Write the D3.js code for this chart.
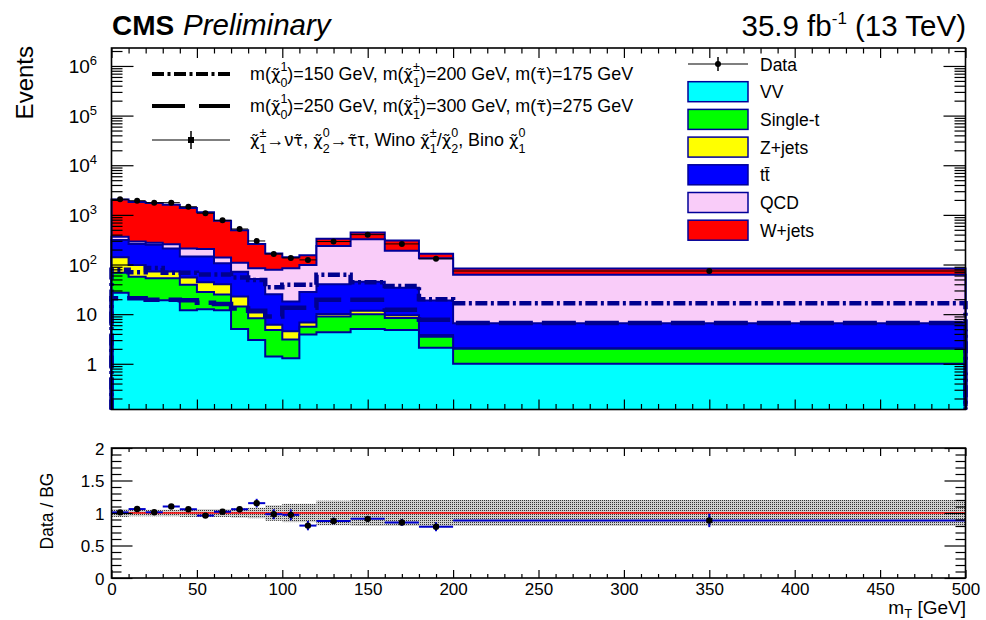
<!DOCTYPE html>
<html>
<head>
<meta charset="utf-8">
<script src="https://cdn.jsdelivr.net/npm/d3@7"></script>
<style>
  body { margin: 0; background: #fff; }
  svg { display: block; font-family: "Liberation Sans", Arial, Helvetica, sans-serif; }
</style>
</head>
<body>
<svg id="chart" width="986" height="620"></svg>
<script>
// ---- binning (m_T, GeV) ----
const binEdges = [0, 10, 20, 30, 40, 50, 60, 70, 80, 90, 100, 110, 120, 140, 160, 180, 200, 500];

// ---- background yields per bin (events) ----
const vvYield     = [27, 22, 19, 19, 12, 12.5, 12, 5.0, 3.0, 1.4, 1.3, 3.9, 4.3, 5.0, 4.8, 2.1, 1.0];
const singleTop   = [41, 35, 34, 34, 27, 15.5, 13, 9.2, 5.3, 3.4, 1.8, 1.7, 4.7, 5.0, 3.6, 1.4, 1.0];
const zJets       = [72, 41, 19, 19, 16, 16, 15, 8.4, 2.5, 1.3, 1.4, 1.2, 1.1, 1.7, 1.1, 0.3, 0.05];
const ttbar       = [173, 162, 178, 138, 90, 101, 66, 49, 40, 19, 13.5, 21, 30, 33, 24.5, 15, 4.5];
const qcd         = [51, 30, 25, 45, 65, 60, 32, 37, 33, 53, 66, 70, 197, 278, 156, 115, 56];
const wJets       = [1676, 1530, 1465, 1345, 1170, 920, 624, 383, 175, 88, 56, 56, 93, 117, 114, 31, 21];

// ---- observed data per bin ----
const dataCounts  = [2060, 1930, 1760, 1760, 1460, 1080, 777, 520, 298, 163, 136, 124, 290, 400, 260, 130, 74];

// ---- signal benchmarks ----
const signal150   = [78, 70, 85, 68, 68, 63, 63, 55, 49, 35, 39, 39, 62, 44, 37, 20, 16.5];
const signal250   = [21, 21, 19.5, 19.5, 19, 17, 16, 13, 11.7, 9, 13.4, 13.4, 19.5, 19.5, 12.2, 7.7, 6.6];

// ---- relative background uncertainty per bin (ratio band half-width) ----
const bgRelUnc    = [0.06, 0.05, 0.05, 0.05, 0.06, 0.06, 0.06, 0.07, 0.08, 0.12, 0.14, 0.14, 0.19, 0.2, 0.2, 0.2, 0.2];

// ---- process names, colours and legend text ----
const processKeys   = ["vv", "st", "z", "tt", "qcd", "w"];
const processColors = { vv: "#00ffff", st: "#00ff00", z: "#ffff00", tt: "#0000ff", qcd: "#f9ccf9", w: "#ff0000" };
const legendLabels  = ["Data", "VV", "Single-t", "Z+jets", "tt\u0304", "QCD", "W+jets"];
const legendKeys    = [null, "vv", "st", "z", "tt", "qcd", "w"];

// ---- axis ticks ----
const xMajorTicks     = [0, 50, 100, 150, 200, 250, 300, 350, 400, 450, 500];
const logMajorTicks   = [1, 10, 100, 1e3, 1e4, 1e5, 1e6];
const ratioMajorTicks = [0, 0.5, 1, 1.5, 2];

const OUTLINE = "#000099";
const svg = d3.select("#chart");

// ---- geometry ----
const L = 111.5, R = 965.5;
const mainTop = 48, mainBot = 409.5;
const ratTop = 448, ratBot = 578;

const x  = d3.scaleLinear().domain([0, 500]).range([L, R]);
const y  = d3.scaleLog().domain([0.12, 2.3e6]).range([mainBot, mainTop]);
const yr = d3.scaleLinear().domain([0, 2]).range([ratBot, ratTop]);

// rows for stacking
const rows = binEdges.slice(0, -1).map((lo, i) => ({
  lo, hi: binEdges[i + 1],
  vv: vvYield[i], st: singleTop[i], z: zJets[i], tt: ttbar[i], qcd: qcd[i], w: wJets[i]
}));
const stacked = d3.stack().keys(processKeys)(rows);
const totalBg = rows.map((r, i) => stacked[stacked.length - 1][i][1]);

const defs = svg.append("defs");
defs.append("clipPath").attr("id", "clipMain")
  .append("rect").attr("x", L - 4).attr("y", mainTop).attr("width", R - L + 10).attr("height", mainBot - mainTop);
const pat = defs.append("pattern").attr("id", "bandDots")
  .attr("width", 2).attr("height", 2).attr("patternUnits", "userSpaceOnUse");
pat.append("rect").attr("width", 2).attr("height", 2).attr("fill", "#cfcfcf");
pat.append("rect").attr("width", 1).attr("height", 1).attr("fill", "#333");

// step points for a per-bin series
function stepPoints(vals) {
  const pts = [];
  vals.forEach((v, i) => { pts.push([binEdges[i], v]); pts.push([binEdges[i + 1], v]); });
  return pts;
}
const stepArea = d3.area().x(d => x(d[0])).y0(mainBot + 2).y1(d => y(d[1]));
const stepLine = d3.line().x(d => x(d[0])).y(d => (d[1] === null ? mainBot + 2 : y(d[1])));
function outlinePoints(vals) {
  const p = stepPoints(vals);
  return [[binEdges[0], null], ...p, [binEdges[binEdges.length - 1], null]];
}

// ---- main pad: stacked histogram ----
const gMain = svg.append("g").attr("clip-path", "url(#clipMain)");
for (let k = stacked.length - 1; k >= 0; k--) {
  const tops = stacked[k].map(d => d[1]);
  const key = stacked[k].key;
  gMain.append("path").attr("d", stepArea(stepPoints(tops))).attr("fill", processColors[key]);
  gMain.append("path").attr("d", stepLine(outlinePoints(tops)))
    .attr("fill", "none").attr("stroke", OUTLINE).attr("stroke-width", 2);
}

// signals
gMain.append("path").attr("d", stepLine(outlinePoints(signal150)))
  .attr("fill", "none").attr("stroke", "#00008f").attr("stroke-width", 4.5)
  .attr("stroke-dasharray", "12,3.5,3,3.5");
gMain.append("path").attr("d", stepLine(outlinePoints(signal250)))
  .attr("fill", "none").attr("stroke", "#00008f").attr("stroke-width", 4.5)
  .attr("stroke-dasharray", "34,9");

// data points
const gData = gMain.append("g");
rows.forEach((r, i) => {
  const cx = x((r.lo + r.hi) / 2), cy = y(dataCounts[i]);
  const err = Math.sqrt(dataCounts[i]);
  gData.append("line").attr("x1", x(r.lo)).attr("x2", x(r.hi)).attr("y1", cy).attr("y2", cy)
    .attr("stroke", "#000").attr("stroke-width", 1);
  gData.append("line").attr("x1", cx).attr("x2", cx)
    .attr("y1", y(dataCounts[i] + err)).attr("y2", y(dataCounts[i] - err))
    .attr("stroke", "#000").attr("stroke-width", 1);
  gData.append("circle").attr("cx", cx).attr("cy", cy).attr("r", 3).attr("fill", "#000");
});

// ---- main pad axes (ticks pointing inward) ----
const logMinorTicks = [];
for (let e = -1; e <= 6; e++) for (let m = 2; m <= 9; m++) {
  const v = m * Math.pow(10, e);
  if (v > 0.12 && v < 2.3e6) logMinorTicks.push(v);
}
const xMinorTicks = d3.range(0, 501, 10).filter(v => v % 50 !== 0);

function styleAxis(g) { g.select(".domain").remove(); g.selectAll("line").attr("stroke", "#000").attr("stroke-width", 1.2); }

svg.append("g").attr("transform", `translate(${L},0)`)
  .call(d3.axisLeft(y).tickValues(logMajorTicks).tickSize(-22).tickFormat(() => "")).call(styleAxis);
svg.append("g").attr("transform", `translate(${L},0)`)
  .call(d3.axisLeft(y).tickValues(logMinorTicks).tickSize(-11).tickFormat(() => "")).call(styleAxis);
svg.append("g").attr("transform", `translate(${R},0)`)
  .call(d3.axisRight(y).tickValues(logMajorTicks).tickSize(-22).tickFormat(() => "")).call(styleAxis);
svg.append("g").attr("transform", `translate(${R},0)`)
  .call(d3.axisRight(y).tickValues(logMinorTicks).tickSize(-11).tickFormat(() => "")).call(styleAxis);
svg.append("g").attr("transform", `translate(0,${mainBot})`)
  .call(d3.axisBottom(x).tickValues(xMajorTicks).tickSize(-10).tickFormat(() => "")).call(styleAxis);
svg.append("g").attr("transform", `translate(0,${mainBot})`)
  .call(d3.axisBottom(x).tickValues(xMinorTicks).tickSize(-5.5).tickFormat(() => "")).call(styleAxis);
svg.append("g").attr("transform", `translate(0,${mainTop})`)
  .call(d3.axisTop(x).tickValues(xMajorTicks).tickSize(-10).tickFormat(() => "")).call(styleAxis);
svg.append("g").attr("transform", `translate(0,${mainTop})`)
  .call(d3.axisTop(x).tickValues(xMinorTicks).tickSize(-5.5).tickFormat(() => "")).call(styleAxis);

// log labels: 1, 10, 10^n
const yLab = svg.append("g").attr("font-size", 19).attr("text-anchor", "end");
logMajorTicks.forEach(v => {
  const e = Math.round(Math.log10(v));
  const t = yLab.append("text").attr("x", 97).attr("y", y(v) + 7);
  if (e === 0) t.text("1");
  else if (e === 1) t.text("10");
  else {
    t.append("tspan").text("10");
    t.append("tspan").attr("font-size", 13).attr("dy", -8).text(String(e));
  }
});

svg.append("rect").attr("x", L).attr("y", mainTop).attr("width", R - L).attr("height", mainBot - mainTop)
  .attr("fill", "none").attr("stroke", "#000").attr("stroke-width", 1.6);

// ---- ratio pad ----
const gRat = svg.append("g");
rows.forEach((r, i) => {
  gRat.append("rect").attr("x", x(r.lo)).attr("width", x(r.hi) - x(r.lo))
    .attr("y", yr(1 + bgRelUnc[i])).attr("height", yr(1 - bgRelUnc[i]) - yr(1 + bgRelUnc[i]))
    .attr("fill", "url(#bandDots)");
});
gRat.append("line").attr("x1", x(0)).attr("x2", x(500)).attr("y1", yr(1)).attr("y2", yr(1))
  .attr("stroke", "#ff0000").attr("stroke-width", 1.5);
rows.forEach((r, i) => {
  const ratio = dataCounts[i] / totalBg[i];
  const err = Math.sqrt(dataCounts[i]) / totalBg[i];
  const cx = x((r.lo + r.hi) / 2), cy = yr(ratio);
  gRat.append("line").attr("x1", x(r.lo)).attr("x2", x(r.hi)).attr("y1", cy).attr("y2", cy)
    .attr("stroke", "#0000cc").attr("stroke-width", 2);
  gRat.append("line").attr("x1", cx).attr("x2", cx).attr("y1", yr(ratio + err)).attr("y2", yr(ratio - err))
    .attr("stroke", "#0000cc").attr("stroke-width", 2);
  gRat.append("circle").attr("cx", cx).attr("cy", cy).attr("r", 3.2).attr("fill", "#000");
});

const ratMinor = d3.range(0, 2.001, 0.1).map(v => +v.toFixed(1)).filter(v => Math.abs(v * 2 - Math.round(v * 2)) > 1e-6);
svg.append("g").attr("transform", `translate(${L},0)`)
  .call(d3.axisLeft(yr).tickValues(ratioMajorTicks).tickSize(-21).tickPadding(7).tickFormat(d => String(d)))
  .call(styleAxis)
  .call(g => g.selectAll("text").attr("font-size", 17).attr("font-family", null).attr("dy", "0.36em"));
svg.append("g").attr("transform", `translate(${L},0)`)
  .call(d3.axisLeft(yr).tickValues(ratMinor).tickSize(-10).tickFormat(() => "")).call(styleAxis);
svg.append("g").attr("transform", `translate(${R},0)`)
  .call(d3.axisRight(yr).tickValues(ratioMajorTicks).tickSize(-21).tickFormat(() => "")).call(styleAxis);
svg.append("g").attr("transform", `translate(${R},0)`)
  .call(d3.axisRight(yr).tickValues(ratMinor).tickSize(-10).tickFormat(() => "")).call(styleAxis);
svg.append("g").attr("transform", `translate(0,${ratBot})`)
  .call(d3.axisBottom(x).tickValues(xMajorTicks).tickSize(-8).tickPadding(5))
  .call(styleAxis)
  .call(g => g.selectAll("text").attr("font-size", 17).attr("font-family", null));
svg.append("g").attr("transform", `translate(0,${ratBot})`)
  .call(d3.axisBottom(x).tickValues(xMinorTicks).tickSize(-4).tickFormat(() => "")).call(styleAxis);
svg.append("g").attr("transform", `translate(0,${ratTop})`)
  .call(d3.axisTop(x).tickValues(xMajorTicks).tickSize(-8).tickFormat(() => "")).call(styleAxis);
svg.append("g").attr("transform", `translate(0,${ratTop})`)
  .call(d3.axisTop(x).tickValues(xMinorTicks).tickSize(-4).tickFormat(() => "")).call(styleAxis);

svg.append("rect").attr("x", L).attr("y", ratTop).attr("width", R - L).attr("height", ratBot - ratTop)
  .attr("fill", "none").attr("stroke", "#000").attr("stroke-width", 1.6);

// ---- titles ----
svg.append("text").attr("x", 112).attr("y", 35).attr("font-size", 28).attr("font-weight", "bold").text("CMS");
svg.append("text").attr("x", 183).attr("y", 35).attr("font-size", 29.5).attr("font-style", "italic").text("Preliminary");
const lumi = svg.append("text").attr("x", 966).attr("y", 36).attr("font-size", 29.5).attr("text-anchor", "end");
lumi.append("tspan").text("35.9 fb");
lumi.append("tspan").attr("font-size", 17).attr("dy", -12).text("-1");
lumi.append("tspan").attr("dy", 12).text(" (13 TeV)");

svg.append("text").attr("transform", "translate(33,46) rotate(-90)").attr("text-anchor", "end")
  .attr("font-size", 24).text("Events");
svg.append("text").attr("transform", "translate(53,511) rotate(-90)").attr("text-anchor", "middle")
  .attr("font-size", 17.5).text("Data / BG");
const xTitle = svg.append("text").attr("x", 966).attr("y", 614).attr("font-size", 19).attr("text-anchor", "end");
xTitle.append("tspan").text("m");
xTitle.append("tspan").attr("font-size", 13).attr("dy", 4).text("T");
xTitle.append("tspan").attr("dy", -4).text(" [GeV]");

// ---- right legend ----
const legY0 = 64, legDy = 27.7;
const gLeg = svg.append("g");
legendLabels.forEach((lab, i) => {
  const cy = legY0 + i * legDy;
  const key = legendKeys[i];
  if (key === null) {
    gLeg.append("line").attr("x1", 688).attr("x2", 748).attr("y1", cy).attr("y2", cy).attr("stroke", "#000").attr("stroke-width", 1.2);
    gLeg.append("line").attr("x1", 718).attr("x2", 718).attr("y1", cy - 7).attr("y2", cy + 7).attr("stroke", "#000").attr("stroke-width", 1.5);
    gLeg.append("circle").attr("cx", 718).attr("cy", cy).attr("r", 3).attr("fill", "#000");
  } else {
    gLeg.append("rect").attr("x", 688).attr("y", cy - 10).attr("width", 60).attr("height", 20)
      .attr("fill", processColors[key]).attr("stroke", OUTLINE).attr("stroke-width", 1.5);
  }
  gLeg.append("text").attr("x", 760).attr("y", cy + 6.5).attr("font-size", 17.5).text(lab);
});

// ---- signal legend (rich text with stacked indices) ----
function richText(t, runs, size) {
  let off = 0, lastW = 0, extra = 0;
  runs.forEach(r => {
    const kind = r.k || "n";
    const target = kind === "sup" ? -0.5 * size : kind === "sub" ? 0.4 * size : 0;
    const ts = t.append("tspan").attr("dy", target - off)
      .attr("font-size", kind === "n" ? size : size * 0.7).text(r.t);
    if (r.f) ts.attr("font-family", "DejaVu Sans").attr("font-size", size * 0.92);
    let w = ts.node().getComputedTextLength();
    if (r.back) {
      ts.attr("dx", -lastW);
      extra = Math.max(0, lastW - w);
    } else if (extra > 0) {
      ts.attr("dx", extra);
      extra = 0;
    }
    off = target;
    lastW = w;
  });
  if (off !== 0) t.append("tspan").attr("dy", -off).text("");
}
const CHI = "\u03C7\u0303", STAU = "\u03C4\u0303";
const sigRows = [
  { y: 74, style: "dashdot", runs: [
    { t: "m(" }, { t: CHI, f: 1 }, { t: "1", k: "sup" }, { t: "0", k: "sub", back: true },
    { t: ")=150 GeV, m(" }, { t: CHI, f: 1 }, { t: "\u00B1", k: "sup" }, { t: "1", k: "sub", back: true },
    { t: ")=200 GeV, m(" }, { t: STAU, f: 1 }, { t: ")=175 GeV" }] },
  { y: 106, style: "dashed", runs: [
    { t: "m(" }, { t: CHI, f: 1 }, { t: "1", k: "sup" }, { t: "0", k: "sub", back: true },
    { t: ")=250 GeV, m(" }, { t: CHI, f: 1 }, { t: "\u00B1", k: "sup" }, { t: "1", k: "sub", back: true },
    { t: ")=300 GeV, m(" }, { t: STAU, f: 1 }, { t: ")=275 GeV" }] },
  { y: 140, style: "marker", runs: [
    { t: CHI, f: 1 }, { t: "\u00B1", k: "sup" }, { t: "1", k: "sub", back: true },
    { t: "\u2192\u03BD" }, { t: STAU, f: 1 }, { t: ", " }, { t: CHI, f: 1 }, { t: "0", k: "sup" }, { t: "2", k: "sub", back: true },
    { t: "\u2192" }, { t: STAU, f: 1 }, { t: "\u03C4, Wino " }, { t: CHI, f: 1 }, { t: "\u00B1", k: "sup" }, { t: "1", k: "sub", back: true },
    { t: "/" }, { t: CHI, f: 1 }, { t: "0", k: "sup" }, { t: "2", k: "sub", back: true },
    { t: ", Bino " }, { t: CHI, f: 1 }, { t: "0", k: "sup" }, { t: "1", k: "sub", back: true }] }
];
sigRows.forEach(row => {
  if (row.style === "marker") {
    gLeg.append("line").attr("x1", 152).attr("x2", 230).attr("y1", row.y).attr("y2", row.y).attr("stroke", "#000").attr("stroke-width", 1.2);
    gLeg.append("line").attr("x1", 191).attr("x2", 191).attr("y1", row.y - 9).attr("y2", row.y + 9).attr("stroke", "#000").attr("stroke-width", 1.5);
    gLeg.append("rect").attr("x", 188).attr("y", row.y - 3).attr("width", 6).attr("height", 6).attr("fill", "#000");
  } else {
    gLeg.append("line").attr("x1", 152).attr("x2", 230).attr("y1", row.y).attr("y2", row.y)
      .attr("stroke", "#000").attr("stroke-width", 4)
      .attr("stroke-dasharray", row.style === "dashdot" ? "12,3.5,3,3.5" : "33,14");
  }
  const t = gLeg.append("text").attr("x", 250).attr("y", row.y + 6);
  richText(t, row.runs, 17.9);
});
</script>
</body>
</html>
